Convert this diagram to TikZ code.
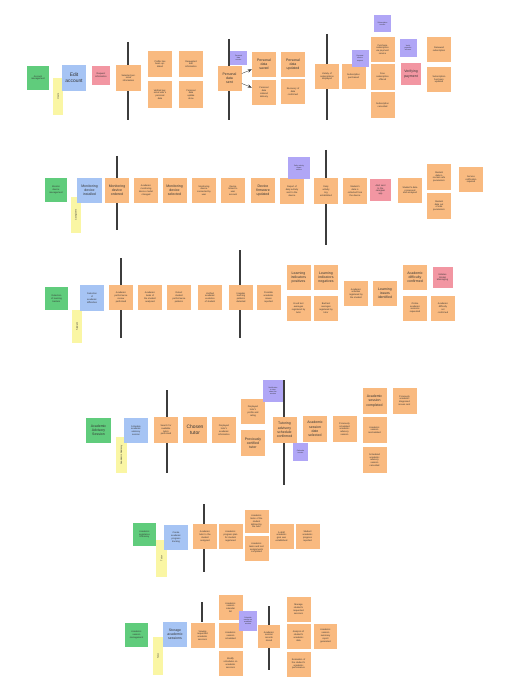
\documentclass[tikz,border=0pt]{standalone}
\usepackage{fontspec}
\setmainfont{Liberation Sans}
\usepackage{xcolor}
\usetikzlibrary{arrows.meta}
\definecolor{stickyorange}{RGB}{249,186,128}
\definecolor{stickygreen}{RGB}{96,204,124}
\definecolor{stickyblue}{RGB}{166,196,244}
\definecolor{stickypink}{RGB}{242,150,162}
\definecolor{stickypurple}{RGB}{176,166,246}
\definecolor{stickyyellow}{RGB}{250,246,164}
\definecolor{pivotgray}{RGB}{60,60,60}

\begin{document}
\begin{tikzpicture}[
    x=0.04cm, y=-0.04cm,
    >=Stealth,
    note/.style={minimum width=0.96cm, minimum height=1cm, text width=0.86cm,
        inner sep=0.4pt, align=center, text=black!80,
        font=\fontsize{2.6}{3.2}\selectfont},
    evt/.style={note, fill=stickyorange},
    agg/.style={note, fill=stickygreen, minimum width=0.9cm, minimum height=0.94cm},
    cmd/.style={note, fill=stickyblue},
    pol/.style={note, fill=stickypink, minimum width=0.8cm, minimum height=0.86cm, text width=0.72cm},
    sys/.style={note, fill=stickypurple, minimum width=0.68cm, minimum height=0.7cm, text width=0.6cm,
        font=\fontsize{2}{2.5}\selectfont},
    actor/.style={note, fill=stickyyellow, rotate=90, minimum width=1.45cm, minimum height=0.42cm, text width=1.3cm},
    mid/.style={font=\fontsize{4}{4.8}\selectfont},
    big/.style={font=\fontsize{5.6}{6.4}\selectfont},
    pivot/.style={pivotgray, line width=1.8pt}
]
\useasboundingbox (0,0) rectangle (515,698);

% pivotal events
\draw[pivot] (128,42) -- (128,120);
\draw[pivot] (229,39) -- (229,120);
\draw[pivot] (327,34) -- (327,120);
\draw[pivot] (117,156) -- (117,230);
\draw[pivot] (326,150) -- (326,245);
\draw[pivot] (121,258) -- (121,338);
\draw[pivot] (240,250) -- (240,338);
\draw[pivot] (167,390) -- (167,473);
\draw[pivot] (284,380) -- (284,485);
\draw[pivot] (204,504) -- (204,572);
\draw[pivot] (202,602) -- (202,622);
\draw[pivot] (269,606) -- (269,670);

% Row 1: account management
\node[agg] (accmgmt) at (38,78) {Account\\management};
\node[actor] (users) at (58,96.5) {Users};
\node[cmd, big] (editacc) at (74,78) {Edit\\account};
\node[pol, minimum width=0.72cm, minimum height=0.76cm] (reqinfo) at (101,75.5) {Request\\information};
\node[evt] (selinfo) at (128.5,78) {Selected per-\\sonal\\information};
\node[evt, minimum height=1.04cm] (profupd) at (160,64) {Profile has\\been up-\\dated};
\node[evt, minimum height=1.04cm] (reqedit) at (191,64) {Requested\\edit\\information};
\node[evt, minimum height=1.04cm] (verdata) at (160,94.5) {Verified per-\\sonal user's\\personal\\data};
\node[evt, minimum height=1.04cm] (upddone) at (191,94.5) {Personal\\data\\update\\done};
\node[evt, mid] (datasent) at (229.5,78.5) {Personal\\data\\sent};
\node[sys, minimum height=0.56cm] (datasrv) at (238.5,58) {Personal\\data\\service};
\node[evt, mid] (datasaved) at (264,64.5) {Personal\\data\\saved};
\node[evt] (dataorder) at (264,92.5) {Personal\\data\\ordered\\delivery};
\node[evt, mid] (dataupd) at (293,64.5) {Personal\\data\\updated};
\node[evt] (datarec) at (293,91.5) {Recovery of\\data\\confirmed};
\node[evt] (subsvar) at (327,76.5) {Variety of\\subscriptions\\displayed};
\node[evt] (subsbuy) at (353.5,76.5) {Subscription\\purchased};
\node[sys] (paysrv) at (360,58.5) {Payment\\service\\request};
\node[sys] (subsrv) at (382.5,23.5) {Subscription\\service};
\node[evt] (subspay) at (382.5,49.5) {Purchase\\subscription\\via payment\\service};
\node[evt] (subsfree) at (382.5,77) {Free\\subscription\\offered};
\node[evt] (subscanc) at (382.5,105) {Subscription\\cancelled};
\node[sys, minimum height=0.72cm] (payver) at (408,48) {Verify\\payment\\success};
\node[pol, mid] (verpay) at (411,74) {Verifying\\payment};
\node[evt] (subsrenew) at (439,49.5) {Renewed\\subscription};
\node[evt] (subsupd) at (439,79.5) {Subscription\\has been\\updated};
\draw[->, pivotgray, thin] (datasent) -- (datasaved);
\draw[->, pivotgray, thin] (datasent) -- (dataorder);

% Row 2: monitoring devices
\node[agg] (devmgmt) at (56,190) {Monitor\\device\\management};
\node[actor] (carers) at (76,215) {Caregivers};
\node[cmd, mid] (devinst) at (89.5,190.5) {Monitoring\\device\\installed};
\node[evt, mid] (devorder) at (117,190.5) {Monitoring\\device\\ordered};
\node[evt] (devmodel) at (146,190.5) {Academic\\monitoring\\device model\\changed};
\node[evt, mid] (devsel) at (174.5,190.5) {Monitoring\\device\\selected};
\node[evt] (devconn) at (204,190.5) {Monitoring\\device\\connected by\\user};
\node[evt] (devlink) at (233,190.5) {Device\\linked to\\user\\account};
\node[evt, mid] (devfirm) at (263,190.5) {Device\\firmware\\updated};
\node[evt] (actsent) at (292,191) {Report of\\daily activity\\sent to the\\device};
\node[sys, minimum width=0.88cm, minimum height=0.88cm, text width=0.8cm] (actsrv) at (299,168) {Daily activity\\report\\service};
\node[evt] (actlog) at (326,191) {Daily\\activity\\log\\established};
\node[evt] (datacoll) at (355,191) {Student's\\data is\\collected from\\the device};
\node[pol, minimum width=0.84cm, minimum height=0.88cm] (alert) at (380.5,190) {Alert sent\\to the\\caregiver\\app};
\node[evt] (dataproc) at (410,190.5) {Student's data\\processed\\and analysed};
\node[evt] (datanorm) at (439,177) {Student\\data in\\normal safe\\parameters};
\node[evt] (dataout) at (439,206) {Student\\data out\\of safe\\parameters};
\node[evt] (servnot) at (471,179.5) {Service\\notification\\required};

% Row 3: learning barriers
\node[agg] (detbar) at (56.5,298.5) {Detection\\of learning\\barriers};
\node[actor, minimum width=1.08cm] (student) at (77,326.5) {Student};
\node[cmd] (detdiff) at (92,298) {Detection\\of\\academic\\difficulties};
\node[evt] (perfrev) at (121,297.5) {Academic\\performance\\review\\performed};
\node[evt] (tasksan) at (150,297.5) {Academic\\tasks of\\the student\\analysed};
\node[evt] (perfpat) at (179,297.5) {Detect\\student\\performance\\patterns};
\node[evt] (evolver) at (210,297.5) {Verified\\academic\\evolution\\of student};
\node[evt] (irregpat) at (241,297.5) {Irregular\\learning\\patterns\\detected};
\node[evt] (issrep) at (268.5,297.5) {Possible\\academic\\issues\\reported};
\node[evt, mid] (indpos) at (298.5,277.5) {Learning\\indicators\\positives};
\node[evt, mid] (indneg) at (326,277.5) {Learning\\indicators\\negatives};
\node[evt] (goodavg) at (298.5,308) {Good test\\averages\\registered by\\tutor};
\node[evt] (badavg) at (326,308) {Bad test\\averages\\registered by\\tutor};
\node[evt] (actreg) at (356,293.5) {Academic\\activities\\registered by\\the student};
\node[evt, mid] (issid) at (385,293.5) {Learning\\issues\\identified};
\node[evt, mid] (diffconf) at (415,277.5) {Academic\\difficulty\\confirmed};
\node[pol] (globmsg) at (442.5,277.5) {Initiates\\Global\\Messaging};
\node[evt] (onlreq) at (415,308) {Online\\academic\\sessions\\requested};
\node[evt] (diffnot) at (443,308) {Academic\\difficulty\\not\\confirmed};

% Row 4: academic advisory
\node[agg, mid, minimum width=1cm, minimum height=1cm] (advsess) at (98.5,430.5) {Academic\\Advisory\\Session};
\node[actor, minimum height=0.44cm] (advactor) at (121.5,455) {Academic Advisory};
\node[cmd] (schedadv) at (136,430.5) {Schedule\\academic\\advisory\\session};
\node[evt, minimum height=1.04cm] (tutsearch) at (166,430) {Search for\\available\\tutors\\performed};
\node[evt, big, minimum height=1.04cm] (tutchosen) at (195,430) {Chosen\\tutor};
\node[evt, minimum height=1.04cm] (tutinfo) at (224,430) {Displayed\\tutor's\\academic\\information};
\node[evt] (tutprof) at (253,411.5) {Displayed\\tutor's\\profile and\\rating};
\node[evt, mid, minimum height=1.04cm] (tutcert) at (253,443) {Previously\\certified\\tutor};
\node[sys, minimum width=0.8cm, minimum height=0.88cm, text width=0.72cm] (tutnot) at (273,391) {Notification\\to tutor\\about the\\session};
\node[evt, mid, minimum height=1.04cm] (schedconf) at (284.5,430) {Tutoring\\advisory\\schedule\\confirmed};
\node[sys, minimum width=0.6cm] (calsrv) at (300.5,452) {Calendar\\service};
\node[evt, mid, minimum height=1.04cm] (datesel) at (315,429) {Academic\\session\\date\\selected};
\node[evt, minimum height=1.04cm] (prevsched) at (344.5,429) {Previously\\scheduled\\academic\\advisory\\session};
\node[evt, mid, minimum height=1.04cm] (sesscomp) at (374.5,401) {Academic\\session\\completed};
\node[evt, minimum height=1.04cm] (sessres) at (374.5,430) {Academic\\session\\rescheduled};
\node[evt, minimum height=1.04cm] (sesscanc) at (374.5,460) {Scheduled\\academic\\advisory\\session\\cancelled};
\node[evt, minimum height=1.04cm] (issent) at (404.5,400.5) {Previously\\academic\\diagnosed\\issues sent};

% Row 5: academic assistance
\node[agg] (assisteff) at (144.5,534.5) {Academic\\assistance\\Efficiency};
\node[actor] (tutor1) at (161.5,558.5) {Tutor};
\node[cmd] (progtrack) at (176,537.5) {Create\\academic\\progress\\tracking};
\node[evt] (tutsel) at (205,536.5) {Academic\\tutor to the\\student\\assigned};
\node[evt] (planreg) at (230.5,536.5) {Academic\\progress plan\\for student\\registered};
\node[evt, minimum height=0.92cm] (taskdef) at (256.5,521.5) {Academic\\tasks of the\\student\\defined by\\the tutor};
\node[evt] (taskcomp) at (256.5,548) {Academic\\tasks and test\\assignments\\completed};
\node[evt] (goalest) at (281.5,536.5) {A draft\\academic\\goal was\\established};
\node[evt] (progrep) at (307.5,536.5) {Student\\academic\\progress\\reported};

% Row 6: academic sessions
\node[agg] (sessmgmt) at (136.5,635) {Academic\\session\\management};
\node[actor, minimum width=1.5cm] (tutor2) at (158,656) {Tutor};
\node[cmd, mid] (sessstore) at (175,634.5) {Storage\\academic\\sessions};
\node[evt] (sessview) at (202.5,635.5) {Viewing\\requested\\academic\\sessions};
\node[evt] (sesslist) at (230.5,607.5) {Academic\\session\\calendar\\list};
\node[evt] (sesssched) at (230.5,635.5) {Academic\\session\\scheduled};
\node[evt] (sessmod) at (230.5,663) {Modify\\schedules on\\academic\\sessions};
\node[sys, minimum width=0.72cm, minimum height=0.8cm] (overlap) at (248,621) {Schedule\\overlap on\\academic\\session};
\node[evt, minimum width=0.88cm, minimum height=0.92cm] (sessrec) at (269,636.5) {Academic\\session\\records\\stored};
\node[evt] (reqsess) at (298.5,609) {Manage\\student's\\requested\\sessions};
\node[evt] (dataanal) at (298.5,636) {Analysis of\\student's\\academic\\data};
\node[evt] (perfeval) at (298.5,664) {Evaluation of\\the student's\\academic\\performance};
\node[evt, minimum width=0.92cm] (reportgen) at (325.5,636) {Academic\\session\\summary\\report\\generated};
\end{tikzpicture}
\end{document}
